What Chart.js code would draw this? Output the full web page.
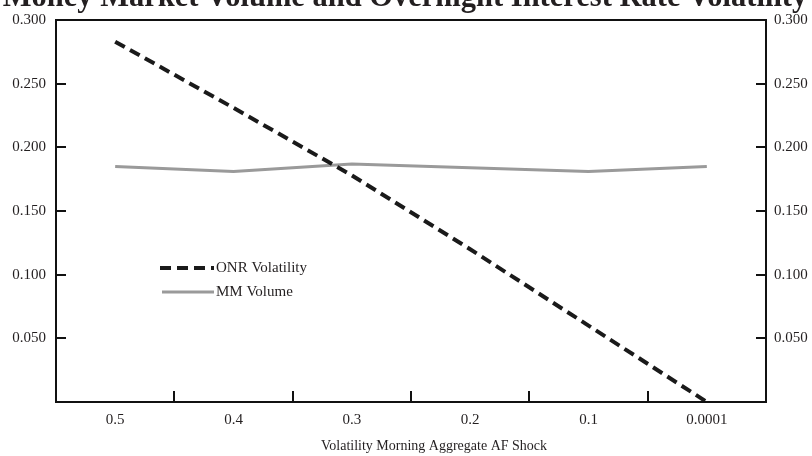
<!DOCTYPE html>
<html>
<head>
<meta charset="utf-8">
<script src="https://cdn.jsdelivr.net/npm/chart.js@4.4.0/dist/chart.umd.min.js"></script>
<style>
  html, body { margin: 0; padding: 0; background: #fff; }
  #wrap { width: 812px; height: 456px; position: relative; }
</style>
</head>
<body>
<div id="wrap"><canvas id="c" width="812" height="456"></canvas></div>
<script>
const titleText = 'Money Market Volume and Overnight Interest Rate Volatility';
const xAxisTitle = 'Volatility Morning Aggregate AF Shock';
const categories = ['0.5', '0.4', '0.3', '0.2', '0.1', '0.0001'];
const onrVolatility = [0.283, 0.231, 0.178, 0.120, 0.060, 0.000];
const mmVolume = [0.185, 0.181, 0.187, 0.184, 0.181, 0.185];
const yTickValues = [0.05, 0.10, 0.15, 0.20, 0.25, 0.30];
const seriesNames = ['ONR Volatility', 'MM Volume'];

const FONT = '"Liberation Serif", "Times New Roman", serif';
const TXT = '#231f20';

const decor = {
  id: 'decor',
  afterDraw(chart) {
    const ctx = chart.ctx;
    const a = chart.chartArea;
    const xs = chart.scales.x, ys = chart.scales.y;
    ctx.save();
    ctx.strokeStyle = '#111';
    ctx.lineWidth = 2;
    ctx.setLineDash([]);
    ctx.strokeRect(a.left, a.top, a.right - a.left, a.bottom - a.top);
    // inward y ticks on both sides
    yTickValues.forEach(v => {
      if (v >= 0.3) return;
      const y = Math.round(ys.getPixelForValue(v));
      ctx.beginPath();
      ctx.moveTo(a.left, y); ctx.lineTo(a.left + 10, y);
      ctx.moveTo(a.right, y); ctx.lineTo(a.right - 10, y);
      ctx.stroke();
    });
    // inward x ticks between categories
    for (let i = 0; i < categories.length - 1; i++) {
      const x = Math.round((xs.getPixelForValue(i) + xs.getPixelForValue(i + 1)) / 2);
      ctx.beginPath();
      ctx.moveTo(x, a.bottom); ctx.lineTo(x, a.bottom - 11);
      ctx.stroke();
    }
    // legend
    const ds = chart.data.datasets;
    const legY = [268, 292];
    ds.forEach((d, i) => {
      ctx.beginPath();
      ctx.strokeStyle = d.borderColor;
      ctx.lineWidth = d.borderWidth;
      ctx.setLineDash(d.borderDash || []);
      ctx.moveTo(i === 0 ? 160 : 162, legY[i]);
      ctx.lineTo(214, legY[i]);
      ctx.stroke();
      ctx.setLineDash([]);
      ctx.fillStyle = TXT;
      ctx.font = '15px ' + FONT;
      ctx.textAlign = 'left';
      ctx.textBaseline = 'middle';
      ctx.fillText(d.label, 216, legY[i]);
    });
    // axis title
    ctx.fillStyle = TXT;
    ctx.font = '14px ' + FONT;
    ctx.textAlign = 'center';
    ctx.textBaseline = 'middle';
    ctx.fillText(xAxisTitle, 434, 446);
    // chart title (cut at top)
    ctx.font = 'bold 30.5px ' + FONT;
    ctx.textAlign = 'center';
    ctx.textBaseline = 'alphabetic';
    ctx.fillText(titleText, 405, 6);
    ctx.restore();
  }
};

const yTicks = {
  color: TXT,
  font: { family: FONT, size: 15 },
  stepSize: 0.05,
  callback: v => (v > 0.0001 ? Number(v).toFixed(3) : '')
};

new Chart(document.getElementById('c'), {
  type: 'line',
  data: {
    labels: categories,
    datasets: [
      {
        label: seriesNames[0],
        data: onrVolatility,
        borderColor: '#1a1a1a',
        borderWidth: 4,
        borderDash: [11, 6],
        pointRadius: 0,
        tension: 0,
        fill: false,
        yAxisID: 'y'
      },
      {
        label: seriesNames[1],
        data: mmVolume,
        borderColor: '#9a9a9a',
        borderWidth: 3,
        pointRadius: 0,
        tension: 0,
        fill: false,
        yAxisID: 'y'
      }
    ]
  },
  options: {
    responsive: false,
    animation: false,
    layout: { padding: { top: 20, left: 0, right: 0, bottom: 0 } },
    plugins: { legend: { display: false }, title: { display: false }, tooltip: { enabled: false } },
    scales: {
      x: {
        offset: true,
        grid: { display: false, drawTicks: false },
        border: { display: false },
        ticks: { color: TXT, font: { family: FONT, size: 15 }, padding: 9, maxRotation: 0 },
        afterFit: s => { s.height = 54; }
      },
      y: {
        position: 'left',
        min: 0, max: 0.3,
        grid: { display: false, drawTicks: false },
        border: { display: false },
        ticks: Object.assign({ padding: 10 }, yTicks),
        afterFit: s => { s.width = 56; }
      },
      y2: {
        position: 'right',
        min: 0, max: 0.3,
        grid: { display: false, drawTicks: false },
        border: { display: false },
        ticks: Object.assign({ padding: 8 }, yTicks),
        afterFit: s => { s.width = 46; }
      }
    }
  },
  plugins: [decor]
});
</script>
</body>
</html>
